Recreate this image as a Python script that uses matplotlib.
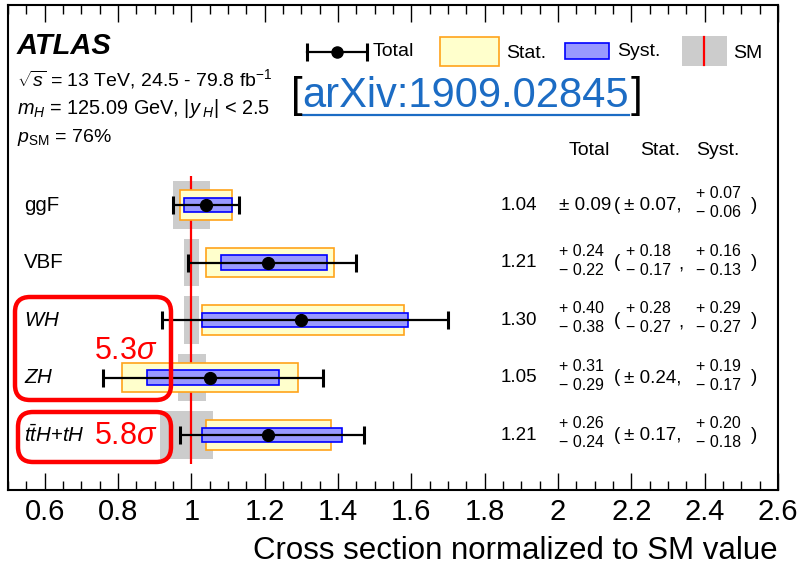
import matplotlib
matplotlib.use("Agg")
import matplotlib.pyplot as plt
import numpy as np
from matplotlib.patches import Rectangle, FancyBboxPatch
from matplotlib.ticker import MultipleLocator, FuncFormatter

plt.rcParams['font.family'] = ['Liberation Sans', 'DejaVu Sans']
plt.rcParams['mathtext.fontset'] = 'custom'
plt.rcParams['mathtext.rm'] = 'Liberation Sans'
plt.rcParams['mathtext.it'] = 'Liberation Sans:italic'
plt.rcParams['mathtext.bf'] = 'Liberation Sans:bold'

# ---- measurements (cross section normalised to SM) ----
processes = ['ggF', 'VBF', 'WH', 'ZH', 'ttH']
proc_labels = ['ggF', 'VBF', r'$WH$', r'$ZH$', r'$t\bar{t}H{+}tH$']
mu = [1.04, 1.21, 1.30, 1.05, 1.21]
tot_up = [0.09, 0.24, 0.40, 0.31, 0.26]
tot_dn = [0.09, 0.22, 0.38, 0.29, 0.24]
stat_up = [0.07, 0.18, 0.28, 0.24, 0.17]
stat_dn = [0.07, 0.17, 0.27, 0.24, 0.17]
syst_up = [0.07, 0.16, 0.29, 0.19, 0.20]
syst_dn = [0.06, 0.13, 0.27, 0.17, 0.18]
# SM theory uncertainty band
sm_up = [0.05, 0.02, 0.02, 0.04, 0.06]
sm_dn = [0.05, 0.02, 0.02, 0.035, 0.085]
xticks = [0.6, 0.8, 1.0, 1.2, 1.4, 1.6, 1.8, 2.0, 2.2, 2.4, 2.6]
significances = ['5.3', '5.8']

W, H = 800, 567
fig = plt.figure(figsize=(W / 100, H / 100), dpi=100)
AX_L, AX_R, AX_T, AX_B = 8, 778, 5, 490
ax = fig.add_axes([AX_L / W, (H - AX_B) / H, (AX_R - AX_L) / W, (AX_B - AX_T) / H])

XMIN, XMAX = 0.5, 2.6
ROW0, ROWSTEP = 205, 57.5
ax.set_xlim(XMIN, XMAX)
ax.set_ylim((AX_B - ROW0) / ROWSTEP, (AX_T - ROW0) / ROWSTEP)

xpx = (AX_R - AX_L) / (XMAX - XMIN)


def px_x(px):
    return XMIN + (px - AX_L) / xpx


def px_y(py):
    return (py - ROW0) / ROWSTEP


def fx(px):
    return (px - AX_L) / (AX_R - AX_L)


def fy(py):
    return (AX_B - py) / (AX_B - AX_T)


y = np.arange(len(processes))
mu_a = np.array(mu)

# SM band and SM line
ax.barh(y, np.array(sm_up) + np.array(sm_dn), left=1 - np.array(sm_dn), height=0.82,
        color='#cccccc', linewidth=0, zorder=1)
ax.vlines(1.0, -0.5, 4.5, color='#ff0000', linewidth=1.6, zorder=2)

# stat and syst boxes
ax.barh(y, np.array(stat_up) + np.array(stat_dn), left=mu_a - np.array(stat_dn), height=0.52,
        facecolor='#ffffcc', edgecolor='#ffa31a', linewidth=1.2, zorder=3)
ax.barh(y, np.array(syst_up) + np.array(syst_dn), left=mu_a - np.array(syst_dn), height=0.26,
        facecolor='#9999ff', edgecolor='#0000ff', linewidth=1.2, zorder=4)

# total uncertainty
ax.errorbar(mu_a, y, xerr=[tot_dn, tot_up], fmt='o', color='k', ms=8.5,
            elinewidth=1.6, capsize=6.5, capthick=2.2, zorder=5)

# process labels
for yi, lab in zip(y, proc_labels):
    ax.text(px_x(24), yi, lab, fontsize=14.8, ha='left', va='center')

# table
fs_val, fs_sub = 13.5, 11.5
ax.text(px_x(589), px_y(150), 'Total', fontsize=14, ha='center', va='center')
ax.text(px_x(660), px_y(150), 'Stat.', fontsize=14, ha='center', va='center')
ax.text(px_x(718), px_y(150), 'Syst.', fontsize=14, ha='center', va='center')


def stacked(xp, yi, up, dn):
    ax.annotate('+ %.2f' % up, (px_x(xp), yi), xytext=(0, 8), textcoords='offset points',
                fontsize=fs_sub, ha='left', va='center')
    ax.annotate('\u2212 %.2f' % dn, (px_x(xp), yi), xytext=(0, -5.5), textcoords='offset points',
                fontsize=fs_sub, ha='left', va='center')


for i in range(len(processes)):
    yi = y[i]
    ax.text(px_x(537), yi, '%.2f' % mu[i], fontsize=fs_val, ha='right', va='center')
    if tot_up[i] == tot_dn[i]:
        ax.text(px_x(559), yi, '\u00b1 %.2f' % tot_up[i], fontsize=fs_val, ha='left', va='center')
    else:
        stacked(559, yi, tot_up[i], tot_dn[i])
    ax.text(px_x(617), yi, '(', fontsize=fs_val, ha='center', va='center')
    if stat_up[i] == stat_dn[i]:
        ax.text(px_x(624), yi, '\u00b1 %.2f,' % stat_up[i], fontsize=fs_val, ha='left', va='center')
    else:
        stacked(626, yi, stat_up[i], stat_dn[i])
        ax.text(px_x(681), yi + 0.05, ',', fontsize=fs_val, ha='center', va='center')
    if syst_up[i] == syst_dn[i]:
        ax.text(px_x(697), yi, '\u00b1 %.2f' % syst_up[i], fontsize=fs_val, ha='left', va='center')
    else:
        stacked(696, yi, syst_up[i], syst_dn[i])
    ax.text(px_x(754), yi, ')', fontsize=fs_val, ha='center', va='center')

# significance boxes
asp = xpx / ROWSTEP
for (x0, x1, y0, y1) in [(15, 171, 297, 400), (18, 171, 412, 462)]:
    box = FancyBboxPatch((px_x(x0), px_y(y0)), px_x(x1) - px_x(x0), px_y(y1) - px_y(y0),
                         boxstyle='round,pad=0,rounding_size=%f' % (15 / xpx),
                         mutation_aspect=asp, facecolor='none', edgecolor='#ff0000',
                         linewidth=3.2, zorder=6)
    ax.add_patch(box)
ax.text(px_x(94), px_y(351), significances[0] + r'$\sigma$', color='#ff0000', fontsize=22,
        ha='left', va='center', zorder=7)
ax.text(px_x(94), px_y(436), significances[1] + r'$\sigma$', color='#ff0000', fontsize=22,
        ha='left', va='center', zorder=7)

# header text
ax.text(fx(17), fy(46), 'ATLAS', transform=ax.transAxes, fontsize=21, fontweight='bold',
        fontstyle='italic', ha='left', va='center')
ax.text(fx(17), fy(79), r'$\sqrt{s}$ = 13 TeV, 24.5 - 79.8 fb$^{-1}$', transform=ax.transAxes,
        fontsize=14, ha='left', va='center')
ax.text(fx(17), fy(108), r'$m_{H}$ = 125.09 GeV, $|y_{\ H}|$ < 2.5', transform=ax.transAxes,
        fontsize=14.3, ha='left', va='center')
ax.text(fx(17), fy(137), r'$p_{\mathrm{SM}}$ = 76%', transform=ax.transAxes,
        fontsize=14, ha='left', va='center')

# legend
ly = 52
ax.plot([fx(307), fx(367)], [fy(ly), fy(ly)], color='k', lw=1.6, transform=ax.transAxes)
ax.plot([fx(307), fx(367)], [fy(ly), fy(ly)], ls='none', marker='|', ms=13, mew=2.2,
        color='k', transform=ax.transAxes)
ax.plot([fx(337)], [fy(ly)], 'o', color='k', ms=8, transform=ax.transAxes)
ax.text(fx(373), fy(ly), 'Total', transform=ax.transAxes, fontsize=14, ha='left', va='center')
ax.add_patch(Rectangle((fx(440), fy(66)), fx(499) - fx(440), fy(37) - fy(66), transform=ax.transAxes,
                       facecolor='#ffffcc', edgecolor='#ffa31a', lw=1.2))
ax.text(fx(506), fy(53), 'Stat.', transform=ax.transAxes, fontsize=14, ha='left', va='center')
ax.add_patch(Rectangle((fx(565), fy(59)), fx(609) - fx(565), fy(43) - fy(59), transform=ax.transAxes,
                       facecolor='#9999ff', edgecolor='#0000ff', lw=1.2))
ax.text(fx(617), fy(51), 'Syst.', transform=ax.transAxes, fontsize=14, ha='left', va='center')
ax.add_patch(Rectangle((fx(682), fy(66)), fx(727) - fx(682), fy(36) - fy(66), transform=ax.transAxes,
                       facecolor='#cccccc', edgecolor='none'))
ax.plot([fx(704), fx(704)], [fy(37), fy(65)], color='#ff0000', lw=1.6, transform=ax.transAxes)
ax.text(fx(733), fy(53), 'SM', transform=ax.transAxes, fontsize=14, ha='left', va='center')

# arXiv reference
link_col = '#1c6cc4'
ax.text(fx(291), fy(96), '[', transform=ax.transAxes, fontsize=30, ha='left', va='center', color='k')
link = ax.text(fx(302), fy(96), 'arXiv:1909.02845', transform=ax.transAxes, fontsize=30,
               ha='left', va='center', color=link_col)
fig.canvas.draw()
bb = link.get_window_extent().transformed(ax.transAxes.inverted())
ax.text(bb.x1 + fx(304) - fx(302), fy(96), ']', transform=ax.transAxes, fontsize=30,
        ha='left', va='center', color='k')
ax.plot([bb.x0 + fx(303) - fx(302), bb.x1], [fy(115), fy(115)], color=link_col, lw=1.6,
        transform=ax.transAxes)

# axes styling
ax.set_yticks([])
ax.set_xticks(xticks)
ax.xaxis.set_major_formatter(FuncFormatter(lambda v, p: '%g' % round(v, 2)))
ax.xaxis.set_minor_locator(MultipleLocator(0.05))
ax.tick_params(axis='x', which='both', direction='in', top=True, bottom=True, width=1.0,
               labelsize=21, pad=6)
ax.tick_params(axis='x', which='major', length=12)
ax.tick_params(axis='x', which='minor', length=6.5)
for s in ax.spines.values():
    s.set_linewidth(1.5)
ax.set_xlabel('Cross section normalized to SM value', fontsize=22.5, loc='right', labelpad=7)

fig.savefig('out.png', dpi=100)
